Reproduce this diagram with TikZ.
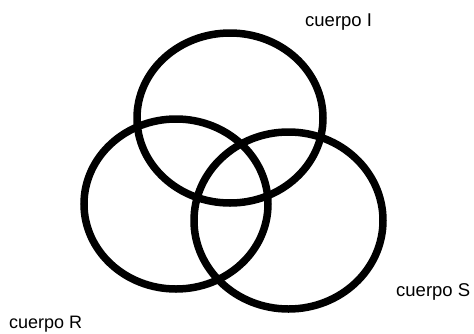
\documentclass[tikz,border=0pt]{standalone}
\usepackage{fontspec}
\setmainfont{Liberation Sans}
\begin{document}
\begin{tikzpicture}[x=1pt,y=-1pt,
  ring/.style={draw=black,line width=7.5pt},
  lbl/.style={anchor=base west,inner sep=0pt,font=\fontsize{18.5}{20}\selectfont}]
\useasboundingbox (0,0) rectangle (474,333);
\draw[ring] (230,118) ellipse [x radius=93, y radius=85];
\draw[ring] (176,204) ellipse [x radius=92, y radius=85];
\draw[ring] (288.5,220.5) ellipse [x radius=94.5, y radius=88.5];
\node[lbl] (ti) at (305,26) {cuerpo I};
\node[lbl] (ts) at (396,296.5) {cuerpo S};
\node[lbl,font=\fontsize{18}{20}\selectfont] (tr) at (9,328.5) {cuerpo R};
\end{tikzpicture}
\end{document}
